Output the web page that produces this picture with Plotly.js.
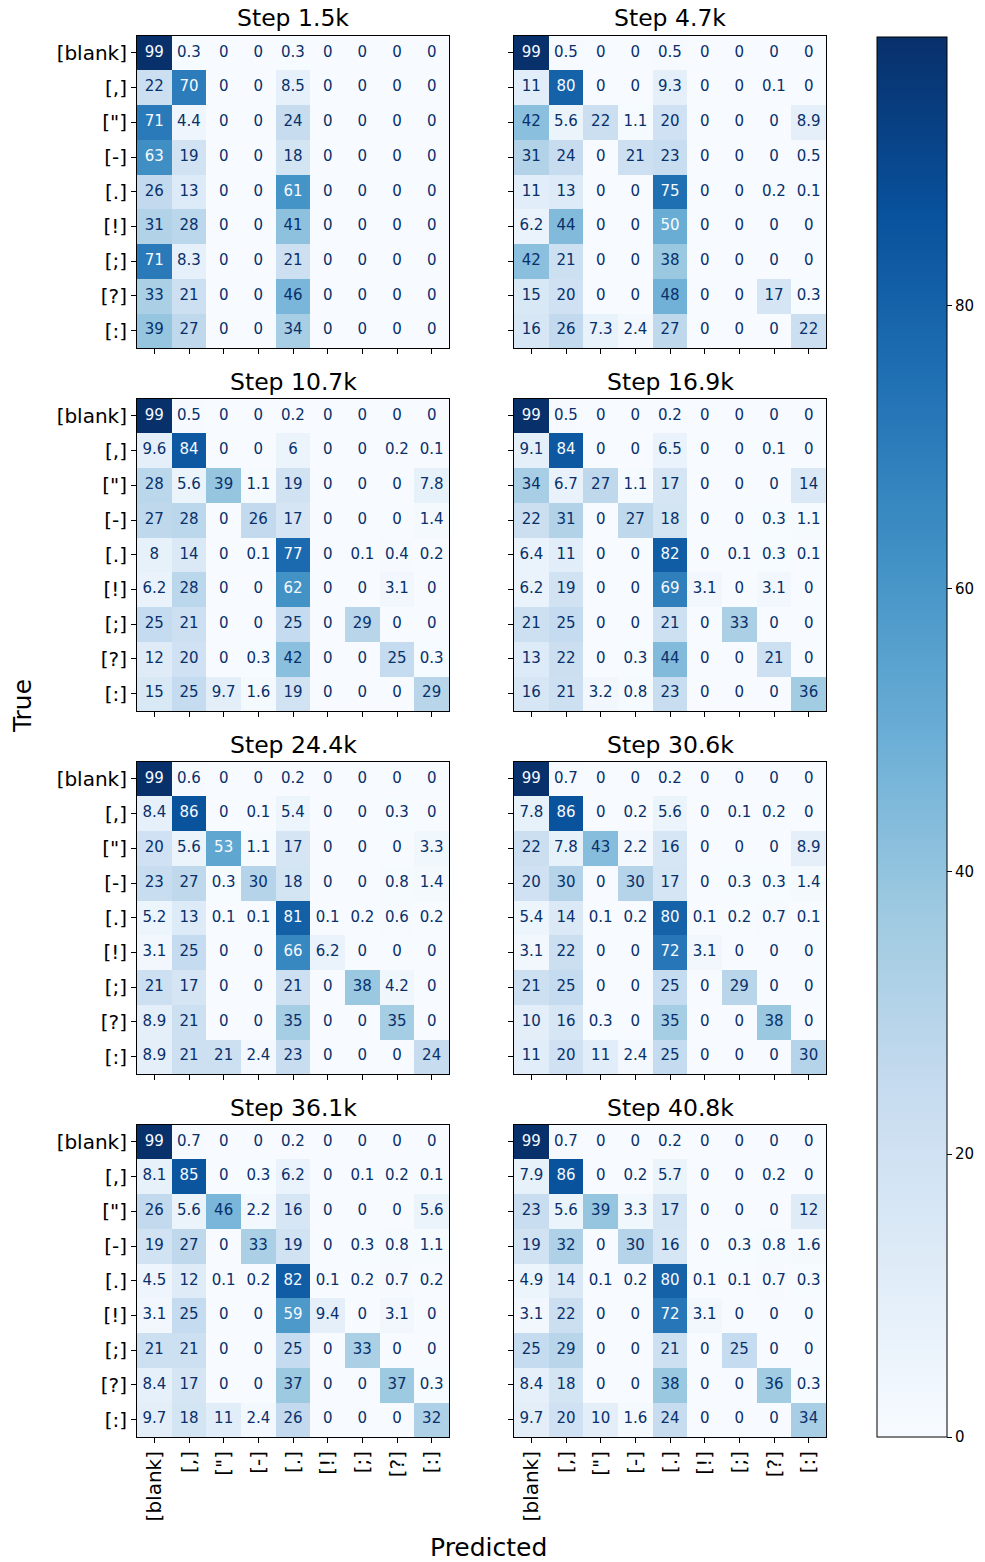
<!DOCTYPE html>
<html><head><meta charset="utf-8">
<script src="https://cdn.plot.ly/plotly-3.0.1.min.js"></script>
<style>html,body{margin:0;padding:0;background:#fff}#chart{width:985px;height:1562px}</style>
</head><body><div id="chart"></div>
<script>
const labels = ['[blank]', '[,]', '["]', '[-]', '[.]', '[!]', '[;]', '[?]', '[:]'];
const stepTitles = ['Step 1.5k', 'Step 4.7k', 'Step 10.7k', 'Step 16.9k', 'Step 24.4k', 'Step 30.6k', 'Step 36.1k', 'Step 40.8k'];

const step1_5k = [
  [99,0.3,0,0,0.3,0,0,0,0],
  [22,70,0,0,8.5,0,0,0,0],
  [71,4.4,0,0,24,0,0,0,0],
  [63,19,0,0,18,0,0,0,0],
  [26,13,0,0,61,0,0,0,0],
  [31,28,0,0,41,0,0,0,0],
  [71,8.3,0,0,21,0,0,0,0],
  [33,21,0,0,46,0,0,0,0],
  [39,27,0,0,34,0,0,0,0]
];
const step4_7k = [
  [99,0.5,0,0,0.5,0,0,0,0],
  [11,80,0,0,9.3,0,0,0.1,0],
  [42,5.6,22,1.1,20,0,0,0,8.9],
  [31,24,0,21,23,0,0,0,0.5],
  [11,13,0,0,75,0,0,0.2,0.1],
  [6.2,44,0,0,50,0,0,0,0],
  [42,21,0,0,38,0,0,0,0],
  [15,20,0,0,48,0,0,17,0.3],
  [16,26,7.3,2.4,27,0,0,0,22]
];
const step10_7k = [
  [99,0.5,0,0,0.2,0,0,0,0],
  [9.6,84,0,0,6,0,0,0.2,0.1],
  [28,5.6,39,1.1,19,0,0,0,7.8],
  [27,28,0,26,17,0,0,0,1.4],
  [8,14,0,0.1,77,0,0.1,0.4,0.2],
  [6.2,28,0,0,62,0,0,3.1,0],
  [25,21,0,0,25,0,29,0,0],
  [12,20,0,0.3,42,0,0,25,0.3],
  [15,25,9.7,1.6,19,0,0,0,29]
];
const step16_9k = [
  [99,0.5,0,0,0.2,0,0,0,0],
  [9.1,84,0,0,6.5,0,0,0.1,0],
  [34,6.7,27,1.1,17,0,0,0,14],
  [22,31,0,27,18,0,0,0.3,1.1],
  [6.4,11,0,0,82,0,0.1,0.3,0.1],
  [6.2,19,0,0,69,3.1,0,3.1,0],
  [21,25,0,0,21,0,33,0,0],
  [13,22,0,0.3,44,0,0,21,0],
  [16,21,3.2,0.8,23,0,0,0,36]
];
const step24_4k = [
  [99,0.6,0,0,0.2,0,0,0,0],
  [8.4,86,0,0.1,5.4,0,0,0.3,0],
  [20,5.6,53,1.1,17,0,0,0,3.3],
  [23,27,0.3,30,18,0,0,0.8,1.4],
  [5.2,13,0.1,0.1,81,0.1,0.2,0.6,0.2],
  [3.1,25,0,0,66,6.2,0,0,0],
  [21,17,0,0,21,0,38,4.2,0],
  [8.9,21,0,0,35,0,0,35,0],
  [8.9,21,21,2.4,23,0,0,0,24]
];
const step30_6k = [
  [99,0.7,0,0,0.2,0,0,0,0],
  [7.8,86,0,0.2,5.6,0,0.1,0.2,0],
  [22,7.8,43,2.2,16,0,0,0,8.9],
  [20,30,0,30,17,0,0.3,0.3,1.4],
  [5.4,14,0.1,0.2,80,0.1,0.2,0.7,0.1],
  [3.1,22,0,0,72,3.1,0,0,0],
  [21,25,0,0,25,0,29,0,0],
  [10,16,0.3,0,35,0,0,38,0],
  [11,20,11,2.4,25,0,0,0,30]
];
const step36_1k = [
  [99,0.7,0,0,0.2,0,0,0,0],
  [8.1,85,0,0.3,6.2,0,0.1,0.2,0.1],
  [26,5.6,46,2.2,16,0,0,0,5.6],
  [19,27,0,33,19,0,0.3,0.8,1.1],
  [4.5,12,0.1,0.2,82,0.1,0.2,0.7,0.2],
  [3.1,25,0,0,59,9.4,0,3.1,0],
  [21,21,0,0,25,0,33,0,0],
  [8.4,17,0,0,37,0,0,37,0.3],
  [9.7,18,11,2.4,26,0,0,0,32]
];
const step40_8k = [
  [99,0.7,0,0,0.2,0,0,0,0],
  [7.9,86,0,0.2,5.7,0,0,0.2,0],
  [23,5.6,39,3.3,17,0,0,0,12],
  [19,32,0,30,16,0,0.3,0.8,1.6],
  [4.9,14,0.1,0.2,80,0.1,0.1,0.7,0.3],
  [3.1,22,0,0,72,3.1,0,0,0],
  [25,29,0,0,21,0,25,0,0],
  [8.4,18,0,0,38,0,0,36,0.3],
  [9.7,20,10,1.6,24,0,0,0,34]
];

const matrices = [step1_5k, step4_7k, step10_7k, step16_9k, step24_4k, step30_6k, step36_1k, step40_8k];

const W = 985, H = 1562;
const colX = [[137, 449], [514, 826]];
const rowY = [[35.5, 348], [398.5, 711], [761.5, 1074], [1124.5, 1437]];
const zMax = 99;
const blues = [
  [0, '#f7fbff'], [0.125, '#deebf7'], [0.25, '#c6dbef'], [0.375, '#9ecae1'],
  [0.5, '#6baed6'], [0.625, '#4292c6'], [0.75, '#2171b5'], [0.875, '#08519c'], [1, '#08306b']
];
const fmt = v => String(Number(v.toPrecision(2)));
const idx = labels.map((_, i) => i);

const traces = [];
const layout = {
  width: W, height: H,
  margin: {l: 0, r: 0, t: 0, b: 0},
  paper_bgcolor: '#fff', plot_bgcolor: '#fff',
  font: {family: 'DejaVu Sans', color: '#000'},
  showlegend: false,
  coloraxis: {
    cmin: 0, cmax: zMax, colorscale: blues,
    colorbar: {
      x: 877 / W, xanchor: 'left', xref: 'paper',
      y: 1 - 1437 / H, yanchor: 'bottom', yref: 'paper',
      len: 1400 / H, lenmode: 'fraction',
      thickness: 70, thicknessmode: 'pixels',
      xpad: 0, ypad: 0,
      outlinewidth: 1, outlinecolor: '#000',
      tickvals: [0, 20, 40, 60, 80], ticks: 'outside', ticklen: 5, tickwidth: 1, tickcolor: '#000',
      tickfont: {size: 15, family: 'DejaVu Sans', color: '#000'}
    }
  },
  annotations: []
};

matrices.forEach((m, k) => {
  const r = Math.floor(k / 2), c = k % 2;
  const n = k + 1;
  const xa = 'x' + (n === 1 ? '' : n), ya = 'y' + (n === 1 ? '' : n);
  traces.push({
    type: 'heatmap', z: m, x: idx, y: idx,
    xaxis: xa, yaxis: ya, coloraxis: 'coloraxis', hoverinfo: 'skip'
  });
  const tx = [], ty = [], tt = [], tc = [];
  m.forEach((row, i) => row.forEach((v, j) => {
    tx.push(j); ty.push(i); tt.push(fmt(v));
    tc.push(v > zMax / 2 ? '#f7fbff' : '#08306b');
  }));
  traces.push({
    type: 'scatter', mode: 'text', x: tx, y: ty, text: tt,
    textposition: 'middle center',
    textfont: {family: 'DejaVu Sans', size: 15, color: tc},
    xaxis: xa, yaxis: ya, hoverinfo: 'skip', cliponaxis: false
  });
  const xd = [colX[c][0] / W, colX[c][1] / W];
  const yd = [1 - rowY[r][1] / H, 1 - rowY[r][0] / H];
  const axBase = {
    showline: true, mirror: true, linecolor: '#000', linewidth: 1,
    ticks: 'outside', ticklen: 5, tickwidth: 1, tickcolor: '#000',
    showgrid: false, zeroline: false, fixedrange: true,
    tickvals: idx, ticktext: labels,
    tickfont: {family: 'DejaVu Sans', size: 20, color: '#000'}
  };
  layout['xaxis' + (n === 1 ? '' : n)] = Object.assign({}, axBase, {
    domain: xd, anchor: ya, range: [-0.5, 8.5],
    showticklabels: r === 3, tickangle: -90
  });
  layout['yaxis' + (n === 1 ? '' : n)] = Object.assign({}, axBase, {
    domain: yd, anchor: xa, range: [8.5, -0.5],
    showticklabels: c === 0
  });
  layout.annotations.push({
    text: stepTitles[k], xref: 'paper', yref: 'paper',
    x: (xd[0] + xd[1]) / 2, y: yd[1], xanchor: 'center', yanchor: 'bottom', yshift: 1,
    showarrow: false, font: {family: 'DejaVu Sans', size: 23.5, color: '#000'}
  });
});

layout.annotations.push({
  text: 'True', xref: 'paper', yref: 'paper', x: 22 / W, y: 1 - 706 / H,
  xanchor: 'center', yanchor: 'middle', textangle: -90, showarrow: false,
  font: {family: 'DejaVu Sans', size: 25, color: '#000'}
});
layout.annotations.push({
  text: 'Predicted', xref: 'paper', yref: 'paper', x: 488 / W, y: 1 - 1547 / H,
  xanchor: 'center', yanchor: 'middle', showarrow: false,
  font: {family: 'DejaVu Sans', size: 25, color: '#000'}
});

Plotly.newPlot('chart', traces, layout, {staticPlot: true, displayModeBar: false});
</script></body></html>
